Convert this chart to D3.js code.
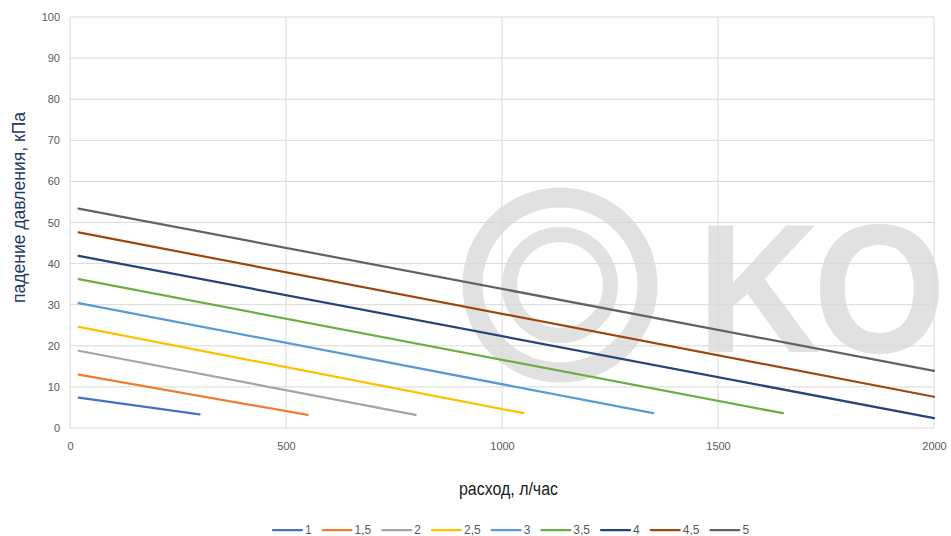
<!DOCTYPE html>
<html>
<head>
<meta charset="utf-8">
<script src="https://cdn.jsdelivr.net/npm/d3@7"></script>
<style>
	body { margin:0; background:#fff; }
	svg { display:block; font-family:'Liberation Sans', Arial, sans-serif; }
</style>
</head>
<body>
<svg class="chart" width="951" height="536"></svg>
<script>

// series: label, flow from -> to (l/h), pressure drop from -> to (kPa)
var seriesNames = ['1','1,5','2','2,5','3','3,5','4','4,5','5'];
var flowFrom = [20,20,20,20,20,20,20,20,20];
var flowTo = [300,550,800,1050,1350,1650,2000,2000,2000];
var dpFrom = [7.4,13.0,18.8,24.6,30.4,36.2,41.9,47.6,53.4];
var dpTo = [3.3,3.2,3.2,3.6,3.6,3.6,2.4,7.6,13.9];

var xTicks = [0,500,1000,1500,2000];
var yTicks = [0,10,20,30,40,50,60,70,80,90,100];

var colors = ['#4472c4','#ed7d31','#a5a5a5','#ffc000','#5b9bd5','#70ad47','#264478','#9e480e','#636363'];

var config = {
	width: 951,
	height: 536,
	left: 70,
	right: 17,
	top: 17,
	bottom: 108,
	grid: '#d9d9d9',
	tickColor: '#595959'
};

var w = config.width - config.left - config.right;
var h = config.height - config.top - config.bottom;

var xScale = d3.scaleLinear()
				.domain([0,2000])
				.range([0,w]);

var yScale = d3.scaleLinear()
				.domain([0,100])
				.range([h,0]);

var svg = d3.select('.chart');

//watermark
var wm = svg.append('g')
			.attr('fill','none')
			.attr('stroke','#e1e1e1');

wm.append('circle')
	.attr('cx',560).attr('cy',285).attr('r',87.5)
	.attr('stroke-width',20);

wm.append('circle')
	.attr('cx',560).attr('cy',285).attr('r',50.5)
	.attr('stroke-width',15);

svg.append('text')
	.text('KO')
	.attr('transform','translate(697,352) scale(0.93,1)')
	.attr('font-size',184)
	.attr('font-weight','bold')
	.attr('letter-spacing',-8)
	.attr('fill','#e1e1e1');

var chart = svg.append('g')
			.attr('transform','translate('+config.left+','+config.top+')');

//grid
chart.selectAll('.hgrid')
	.data(yTicks)
	.enter()
	.append('line')
	.attr('x1',0)
	.attr('x2',w)
	.attr('y1',d=>yScale(d))
	.attr('y2',d=>yScale(d))
	.attr('stroke',config.grid)
	.attr('stroke-width',1);

chart.selectAll('.vgrid')
	.data(xTicks)
	.enter()
	.append('line')
	.attr('x1',d=>xScale(d))
	.attr('x2',d=>xScale(d))
	.attr('y1',0)
	.attr('y2',h)
	.attr('stroke',config.grid)
	.attr('stroke-width',1);

//axes
var xAxisGen = d3.axisBottom(xScale).tickValues(xTicks).tickFormat(d3.format('d')).tickSize(0).tickPadding(14);
var yAxisGen = d3.axisLeft(yScale).tickValues(yTicks).tickSize(0).tickPadding(10);

var xAxis = chart.append('g')
	.attr('transform','translate(0,'+h+')')
	.call(xAxisGen);

var yAxis = chart.append('g')
	.call(yAxisGen);

[xAxis,yAxis].forEach(function(a){
	a.select('.domain').remove();
	a.selectAll('text')
		.attr('fill',config.tickColor)
		.attr('font-size',11)
		.attr('font-family','Liberation Sans, Arial, sans-serif');
});

//lines
var line = d3.line()
			.x(d=>xScale(d[0]))
			.y(d=>yScale(d[1]));

var seriesData = seriesNames.map(function(n,i){
	return [[flowFrom[i],dpFrom[i]],[flowTo[i],dpTo[i]]];
});

chart.selectAll('.series')
	.data(seriesData)
	.enter()
	.append('path')
	.attr('d',line)
	.attr('fill','none')
	.attr('stroke',(d,i)=>colors[i])
	.attr('stroke-width',2.25)
	.attr('stroke-linecap','round');

//axis titles
svg.append('text')
	.text('расход, л/час')
	.attr('x',459)
	.attr('y',495)
	.attr('font-size',18)
	.attr('textLength',99)
	.attr('lengthAdjust','spacingAndGlyphs')
	.attr('fill','#1a1a1a');

svg.append('text')
	.text('падение давления, кПа')
	.attr('transform','translate(25,303) rotate(-90)')
	.attr('font-size',18)
	.attr('textLength',191)
	.attr('lengthAdjust','spacingAndGlyphs')
	.attr('fill','#1f3864');

//legend
var legend = svg.append('g');

var xPos = 0;
seriesNames.forEach(function(n,i){
	var g = legend.append('g');
	g.append('line')
		.attr('x1',0).attr('x2',29)
		.attr('y1',0).attr('y2',0)
		.attr('stroke',colors[i])
		.attr('stroke-width',2.25)
		.attr('stroke-linecap','round');
	var t = g.append('text')
		.text(n)
		.attr('x',32)
		.attr('y',4)
		.attr('font-size',12)
		.attr('fill',config.tickColor);
	g.attr('transform','translate('+xPos+',0)');
	xPos += 32 + t.node().getComputedTextLength() + 11;
});
var total = xPos - 11;
legend.attr('transform','translate('+(511-total/2)+',530)');

</script>
</body>
</html>
